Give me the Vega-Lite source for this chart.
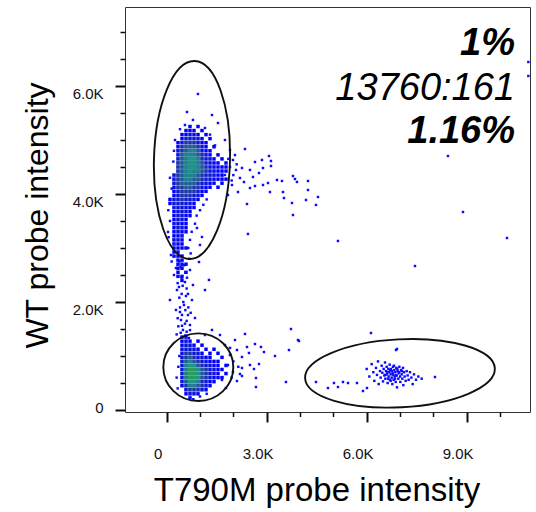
{
"$schema": "https://vega.github.io/schema/vega-lite/v6.json",
"width": 405, "height": 405,
"autosize": "none",
"padding": {"left": 125, "top": 7, "right": 6, "bottom": 100},
"background": "white",
"config": {"font": "Liberation Sans", "view": {"stroke": "#333", "strokeWidth": 1}, "axis": {"grid": false, "domain": false}},
"datasets": {
"cells": [
{"t":700,"w":5250,"d":1},{"t":940,"w":5250,"d":1},
{"t":580,"w":5175,"d":1},{"t":700,"w":5175,"d":1},{"t":820,"w":5175,"d":1},{"t":1060,"w":5175,"d":1},
{"t":460,"w":5100,"d":1},{"t":580,"w":5100,"d":1},{"t":700,"w":5100,"d":2},{"t":820,"w":5100,"d":2},{"t":940,"w":5100,"d":1},{"t":1180,"w":5100,"d":1},
{"t":460,"w":5025,"d":1},{"t":580,"w":5025,"d":2},{"t":700,"w":5025,"d":2},{"t":820,"w":5025,"d":2},{"t":940,"w":5025,"d":2},{"t":1060,"w":5025,"d":1},{"t":1300,"w":5025,"d":1},
{"t":340,"w":4950,"d":1},{"t":460,"w":4950,"d":2},{"t":580,"w":4950,"d":3},{"t":700,"w":4950,"d":3},{"t":820,"w":4950,"d":3},{"t":940,"w":4950,"d":2},{"t":1060,"w":4950,"d":1},{"t":1180,"w":4950,"d":1},
{"t":340,"w":4875,"d":1},{"t":460,"w":4875,"d":3},{"t":580,"w":4875,"d":4},{"t":700,"w":4875,"d":4},{"t":820,"w":4875,"d":4},{"t":940,"w":4875,"d":3},{"t":1060,"w":4875,"d":2},{"t":1180,"w":4875,"d":1},{"t":1420,"w":4875,"d":1},
{"t":340,"w":4800,"d":2},{"t":460,"w":4800,"d":3},{"t":580,"w":4800,"d":4},{"t":700,"w":4800,"d":5},{"t":820,"w":4800,"d":5},{"t":940,"w":4800,"d":4},{"t":1060,"w":4800,"d":2},{"t":1180,"w":4800,"d":1},{"t":1300,"w":4800,"d":1},
{"t":340,"w":4725,"d":2},{"t":460,"w":4725,"d":4},{"t":580,"w":4725,"d":5},{"t":700,"w":4725,"d":5},{"t":820,"w":4725,"d":5},{"t":940,"w":4725,"d":4},{"t":1060,"w":4725,"d":3},{"t":1180,"w":4725,"d":2},{"t":1300,"w":4725,"d":1},{"t":1540,"w":4725,"d":1},
{"t":340,"w":4650,"d":2},{"t":460,"w":4650,"d":4},{"t":580,"w":4650,"d":5},{"t":700,"w":4650,"d":6},{"t":820,"w":4650,"d":6},{"t":940,"w":4650,"d":5},{"t":1060,"w":4650,"d":3},{"t":1180,"w":4650,"d":2},{"t":1300,"w":4650,"d":2},{"t":1420,"w":4650,"d":1},{"t":1660,"w":4650,"d":1},
{"t":340,"w":4575,"d":3},{"t":460,"w":4575,"d":4},{"t":580,"w":4575,"d":5},{"t":700,"w":4575,"d":6},{"t":820,"w":4575,"d":6},{"t":940,"w":4575,"d":5},{"t":1060,"w":4575,"d":4},{"t":1180,"w":4575,"d":2},{"t":1300,"w":4575,"d":2},{"t":1420,"w":4575,"d":1},{"t":1540,"w":4575,"d":1},{"t":1780,"w":4575,"d":1},
{"t":340,"w":4500,"d":3},{"t":460,"w":4500,"d":4},{"t":580,"w":4500,"d":5},{"t":700,"w":4500,"d":6},{"t":820,"w":4500,"d":6},{"t":940,"w":4500,"d":5},{"t":1060,"w":4500,"d":4},{"t":1180,"w":4500,"d":3},{"t":1300,"w":4500,"d":2},{"t":1420,"w":4500,"d":2},{"t":1540,"w":4500,"d":1},{"t":1660,"w":4500,"d":1},{"t":1780,"w":4500,"d":1},
{"t":340,"w":4425,"d":3},{"t":460,"w":4425,"d":4},{"t":580,"w":4425,"d":5},{"t":700,"w":4425,"d":6},{"t":820,"w":4425,"d":5},{"t":940,"w":4425,"d":5},{"t":1060,"w":4425,"d":4},{"t":1180,"w":4425,"d":3},{"t":1300,"w":4425,"d":2},{"t":1420,"w":4425,"d":2},{"t":1540,"w":4425,"d":1},{"t":1660,"w":4425,"d":1},{"t":1780,"w":4425,"d":1},
{"t":220,"w":4350,"d":2},{"t":340,"w":4350,"d":3},{"t":460,"w":4350,"d":4},{"t":580,"w":4350,"d":5},{"t":700,"w":4350,"d":5},{"t":820,"w":4350,"d":5},{"t":940,"w":4350,"d":4},{"t":1060,"w":4350,"d":3},{"t":1180,"w":4350,"d":2},{"t":1300,"w":4350,"d":2},{"t":1420,"w":4350,"d":2},{"t":1540,"w":4350,"d":1},{"t":1660,"w":4350,"d":1},
{"t":220,"w":4275,"d":2},{"t":340,"w":4275,"d":3},{"t":460,"w":4275,"d":4},{"t":580,"w":4275,"d":5},{"t":700,"w":4275,"d":5},{"t":820,"w":4275,"d":4},{"t":940,"w":4275,"d":4},{"t":1060,"w":4275,"d":3},{"t":1180,"w":4275,"d":2},{"t":1300,"w":4275,"d":2},{"t":1420,"w":4275,"d":1},{"t":1540,"w":4275,"d":1},{"t":1660,"w":4275,"d":1},{"t":1780,"w":4275,"d":1},
{"t":220,"w":4200,"d":2},{"t":340,"w":4200,"d":3},{"t":460,"w":4200,"d":4},{"t":580,"w":4200,"d":4},{"t":700,"w":4200,"d":4},{"t":820,"w":4200,"d":4},{"t":940,"w":4200,"d":3},{"t":1060,"w":4200,"d":2},{"t":1180,"w":4200,"d":2},{"t":1300,"w":4200,"d":1},{"t":1420,"w":4200,"d":1},{"t":1660,"w":4200,"d":1},
{"t":220,"w":4125,"d":1},{"t":340,"w":4125,"d":3},{"t":460,"w":4125,"d":3},{"t":580,"w":4125,"d":4},{"t":700,"w":4125,"d":4},{"t":820,"w":4125,"d":3},{"t":940,"w":4125,"d":3},{"t":1060,"w":4125,"d":2},{"t":1180,"w":4125,"d":1},{"t":1300,"w":4125,"d":1},{"t":1540,"w":4125,"d":1},
{"t":220,"w":4050,"d":1},{"t":340,"w":4050,"d":2},{"t":460,"w":4050,"d":3},{"t":580,"w":4050,"d":3},{"t":700,"w":4050,"d":3},{"t":820,"w":4050,"d":3},{"t":940,"w":4050,"d":2},{"t":1060,"w":4050,"d":1},{"t":1180,"w":4050,"d":1},
{"t":220,"w":3975,"d":1},{"t":340,"w":3975,"d":2},{"t":460,"w":3975,"d":3},{"t":580,"w":3975,"d":3},{"t":700,"w":3975,"d":3},{"t":820,"w":3975,"d":2},{"t":940,"w":3975,"d":2},{"t":1060,"w":3975,"d":1},
{"t":100,"w":3900,"d":1},{"t":220,"w":3900,"d":2},{"t":340,"w":3900,"d":2},{"t":460,"w":3900,"d":3},{"t":580,"w":3900,"d":2},{"t":700,"w":3900,"d":2},{"t":820,"w":3900,"d":2},{"t":940,"w":3900,"d":1},
{"t":100,"w":3825,"d":1},{"t":220,"w":3825,"d":2},{"t":340,"w":3825,"d":2},{"t":460,"w":3825,"d":2},{"t":580,"w":3825,"d":2},{"t":700,"w":3825,"d":2},{"t":820,"w":3825,"d":1},
{"t":220,"w":3750,"d":2},{"t":340,"w":3750,"d":2},{"t":460,"w":3750,"d":2},{"t":580,"w":3750,"d":2},{"t":700,"w":3750,"d":1},{"t":820,"w":3750,"d":1},
{"t":220,"w":3675,"d":1},{"t":340,"w":3675,"d":2},{"t":460,"w":3675,"d":2},{"t":580,"w":3675,"d":2},{"t":700,"w":3675,"d":1},
{"t":220,"w":3600,"d":1},{"t":340,"w":3600,"d":2},{"t":460,"w":3600,"d":2},{"t":580,"w":3600,"d":1},{"t":700,"w":3600,"d":1},
{"t":220,"w":3525,"d":1},{"t":340,"w":3525,"d":2},{"t":460,"w":3525,"d":2},{"t":580,"w":3525,"d":1},
{"t":220,"w":3450,"d":2},{"t":340,"w":3450,"d":2},{"t":460,"w":3450,"d":1},{"t":580,"w":3450,"d":1},
{"t":220,"w":3375,"d":1},{"t":340,"w":3375,"d":2},{"t":460,"w":3375,"d":2},{"t":580,"w":3375,"d":1},
{"t":220,"w":3300,"d":1},{"t":340,"w":3300,"d":2},{"t":460,"w":3300,"d":1},{"t":580,"w":3300,"d":1},
{"t":220,"w":3225,"d":1},{"t":340,"w":3225,"d":1},{"t":460,"w":3225,"d":2},
{"t":220,"w":3150,"d":1},{"t":340,"w":3150,"d":2},{"t":460,"w":3150,"d":1},
{"t":220,"w":3075,"d":2},{"t":340,"w":3075,"d":1},{"t":460,"w":3075,"d":1},
{"t":220,"w":3000,"d":1},{"t":340,"w":3000,"d":1},{"t":460,"w":3000,"d":1},{"t":580,"w":3000,"d":1},
{"t":220,"w":2925,"d":1},{"t":340,"w":2925,"d":2},
{"t":220,"w":2850,"d":1},{"t":340,"w":2850,"d":1},{"t":460,"w":2850,"d":1},
{"t":340,"w":2775,"d":1},{"t":460,"w":2775,"d":1},
{"t":340,"w":2700,"d":1},{"t":460,"w":2700,"d":1},{"t":580,"w":2700,"d":1},
{"t":340,"w":2625,"d":1},{"t":460,"w":2625,"d":1},
{"t":340,"w":2550,"d":1},{"t":580,"w":2550,"d":1},
{"t":340,"w":2475,"d":1},{"t":460,"w":2475,"d":1},
{"t":460,"w":2400,"d":1},
{"t":460,"w":1350,"d":1},{"t":580,"w":1350,"d":1},
{"t":460,"w":1275,"d":1},{"t":580,"w":1275,"d":2},{"t":700,"w":1275,"d":1},{"t":940,"w":1275,"d":1},
{"t":460,"w":1200,"d":1},{"t":580,"w":1200,"d":2},{"t":700,"w":1200,"d":2},{"t":820,"w":1200,"d":1},{"t":1060,"w":1200,"d":1},
{"t":460,"w":1125,"d":2},{"t":580,"w":1125,"d":2},{"t":700,"w":1125,"d":2},{"t":820,"w":1125,"d":2},{"t":940,"w":1125,"d":1},{"t":1180,"w":1125,"d":1},{"t":1420,"w":1125,"d":1},
{"t":460,"w":1050,"d":2},{"t":580,"w":1050,"d":3},{"t":700,"w":1050,"d":3},{"t":820,"w":1050,"d":2},{"t":940,"w":1050,"d":2},{"t":1060,"w":1050,"d":1},{"t":1300,"w":1050,"d":1},{"t":1540,"w":1050,"d":1},
{"t":460,"w":975,"d":2},{"t":580,"w":975,"d":3},{"t":700,"w":975,"d":4},{"t":820,"w":975,"d":3},{"t":940,"w":975,"d":2},{"t":1060,"w":975,"d":2},{"t":1180,"w":975,"d":1},{"t":1300,"w":975,"d":1},{"t":1660,"w":975,"d":1},
{"t":460,"w":900,"d":2},{"t":580,"w":900,"d":4},{"t":700,"w":900,"d":5},{"t":820,"w":900,"d":4},{"t":940,"w":900,"d":3},{"t":1060,"w":900,"d":2},{"t":1180,"w":900,"d":2},{"t":1300,"w":900,"d":1},{"t":1420,"w":900,"d":1},{"t":1540,"w":900,"d":1},
{"t":460,"w":825,"d":2},{"t":580,"w":825,"d":5},{"t":700,"w":825,"d":6},{"t":820,"w":825,"d":6},{"t":940,"w":825,"d":4},{"t":1060,"w":825,"d":3},{"t":1180,"w":825,"d":2},{"t":1300,"w":825,"d":2},{"t":1420,"w":825,"d":1},{"t":1540,"w":825,"d":1},{"t":1780,"w":825,"d":1},
{"t":460,"w":750,"d":2},{"t":580,"w":750,"d":5},{"t":700,"w":750,"d":7},{"t":820,"w":750,"d":7},{"t":940,"w":750,"d":6},{"t":1060,"w":750,"d":4},{"t":1180,"w":750,"d":3},{"t":1300,"w":750,"d":2},{"t":1420,"w":750,"d":2},{"t":1540,"w":750,"d":1},{"t":1660,"w":750,"d":1},
{"t":460,"w":675,"d":2},{"t":580,"w":675,"d":5},{"t":700,"w":675,"d":7},{"t":820,"w":675,"d":7},{"t":940,"w":675,"d":6},{"t":1060,"w":675,"d":4},{"t":1180,"w":675,"d":3},{"t":1300,"w":675,"d":2},{"t":1420,"w":675,"d":2},{"t":1540,"w":675,"d":1},{"t":1780,"w":675,"d":1},
{"t":460,"w":600,"d":2},{"t":580,"w":600,"d":5},{"t":700,"w":600,"d":7},{"t":820,"w":600,"d":7},{"t":940,"w":600,"d":6},{"t":1060,"w":600,"d":4},{"t":1180,"w":600,"d":3},{"t":1300,"w":600,"d":2},{"t":1420,"w":600,"d":1},{"t":1540,"w":600,"d":1},{"t":1660,"w":600,"d":1},
{"t":460,"w":525,"d":2},{"t":580,"w":525,"d":4},{"t":700,"w":525,"d":6},{"t":820,"w":525,"d":6},{"t":940,"w":525,"d":5},{"t":1060,"w":525,"d":3},{"t":1180,"w":525,"d":2},{"t":1300,"w":525,"d":1},{"t":1420,"w":525,"d":1},
{"t":460,"w":450,"d":1},{"t":580,"w":450,"d":3},{"t":700,"w":450,"d":5},{"t":820,"w":450,"d":5},{"t":940,"w":450,"d":4},{"t":1060,"w":450,"d":3},{"t":1180,"w":450,"d":2},{"t":1300,"w":450,"d":1},
{"t":580,"w":375,"d":2},{"t":700,"w":375,"d":3},{"t":820,"w":375,"d":3},{"t":940,"w":375,"d":3},{"t":1060,"w":375,"d":2},{"t":1180,"w":375,"d":1},
{"t":580,"w":300,"d":1},{"t":700,"w":300,"d":2},{"t":820,"w":300,"d":2},{"t":940,"w":300,"d":1},
{"t":700,"w":225,"d":1}
],
"dots": [
{"t":939,"w":5852},{"t":609,"w":5519},{"t":1359,"w":5463},{"t":1539,"w":5315},{"t":789,"w":5371},{"t":1149,"w":5223},{"t":549,"w":5278},{"t":1749,"w":5000},{"t":1899,"w":4815},
{"t":2349,"w":4833},{"t":3069,"w":4704},{"t":3129,"w":4611},{"t":2859,"w":4630},{"t":2649,"w":4593},{"t":2889,"w":4482},{"t":3129,"w":4519},{"t":2769,"w":4389},{"t":2259,"w":4482},{"t":2499,"w":4445},{"t":2589,"w":4315},{"t":3309,"w":4260},{"t":3459,"w":4241},{"t":3789,"w":4334},{"t":3849,"w":4278},{"t":3909,"w":4223},{"t":4239,"w":4241},{"t":3039,"w":4204},{"t":2889,"w":4167},{"t":2649,"w":4148},{"t":2499,"w":4111},{"t":3099,"w":4037},{"t":3489,"w":4037},{"t":4239,"w":4074},{"t":3519,"w":3926},{"t":4179,"w":3889},{"t":4539,"w":3945},{"t":3759,"w":3834},{"t":4479,"w":3797},{"t":2409,"w":3815},{"t":3789,"w":3611},{"t":2439,"w":3260},{"t":5139,"w":3130},
{"t":1989,"w":4630},{"t":2079,"w":4445},{"t":2199,"w":4297},{"t":1959,"w":4167},{"t":2139,"w":4037},{"t":2049,"w":4722},{"t":2319,"w":4222},{"t":1839,"w":3982},{"t":1749,"w":4352},{"t":1900,"w":4500},{"t":2000,"w":4350},{"t":1850,"w":4650},{"t":1950,"w":4250},{"t":2100,"w":4550},
{"t":220,"w":4800},{"t":200,"w":4600},{"t":150,"w":4100},{"t":100,"w":4300},{"t":250,"w":5000},{"t":400,"w":5200},{"t":1300,"w":5100},{"t":1450,"w":4900},{"t":1200,"w":3900},{"t":1100,"w":3800},{"t":1000,"w":3700},{"t":900,"w":3600},{"t":850,"w":3450},{"t":750,"w":3300},{"t":700,"w":3150},{"t":650,"w":3000},{"t":100,"w":3500},{"t":50,"w":3700},{"t":60,"w":3200},{"t":720,"w":2900},{"t":680,"w":2800},{"t":150,"w":2750},
{"t":1269,"w":2408},{"t":99,"w":2037},{"t":279,"w":1852},{"t":759,"w":2037},{"t":429,"w":1667},{"t":699,"w":1574},{"t":309,"w":2222},{"t":789,"w":2315},{"t":579,"w":2111},{"t":519,"w":1945},{"t":639,"w":1759},{"t":489,"w":1482},{"t":669,"w":1333},{"t":399,"w":1815},{"t":849,"w":1704},{"t":219,"w":2500},{"t":969,"w":2741},{"t":129,"w":2870},{"t":999,"w":3056},{"t":39,"w":3297},{"t":909,"w":3371},{"t":1059,"w":3204},{"t":279,"w":2630},{"t":699,"w":2593},{"t":549,"w":2370},{"t":369,"w":2278},{"t":1149,"w":2222},{"t":600,"w":2250},{"t":450,"w":2150},{"t":500,"w":2000},{"t":400,"w":1900},{"t":650,"w":1900},{"t":550,"w":1600},{"t":350,"w":1550},{"t":600,"w":1450},{"t":300,"w":1400},{"t":450,"w":2450},{"t":560,"w":2550},{"t":420,"w":2650},
{"t":380,"w":2750},{"t":520,"w":2680},{"t":610,"w":2450},{"t":330,"w":2350},{"t":480,"w":2300},{"t":640,"w":2150},{"t":380,"w":2080},{"t":560,"w":1850},{"t":460,"w":1760},{"t":720,"w":1800},{"t":330,"w":1700},{"t":600,"w":1650},{"t":460,"w":1560},{"t":700,"w":1480},{"t":420,"w":1430},{"t":560,"w":1380},
{"t":2349,"w":1408},{"t":2649,"w":1222},{"t":2409,"w":1167},{"t":2829,"w":1167},{"t":2919,"w":1074},{"t":2469,"w":1056},{"t":2109,"w":1111},{"t":3249,"w":1000},{"t":3669,"w":1111},{"t":3729,"w":1500},{"t":3969,"w":1278},{"t":2769,"w":852},{"t":2499,"w":833},{"t":2259,"w":982},{"t":2259,"w":778},{"t":2619,"w":759},{"t":2199,"w":667},{"t":2259,"w":630},{"t":2679,"w":593},{"t":2109,"w":537},{"t":2679,"w":426},{"t":3579,"w":519},{"t":1749,"w":1204},{"t":1899,"w":1019},{"t":1839,"w":833},{"t":1989,"w":704},{"t":1659,"w":556},{"t":1779,"w":407},{"t":2049,"w":1296},{"t":1599,"w":1389},{"t":1359,"w":1482},{"t":1149,"w":1389},{"t":2000,"w":900},{"t":1950,"w":600},{"t":1900,"w":1150},{"t":2150,"w":800},{"t":350,"w":800},{"t":300,"w":600},{"t":380,"w":1000},{"t":330,"w":400},{"t":1200,"w":300},{"t":1000,"w":250},{"t":800,"w":200},
{"t":4479,"w":519},{"t":4839,"w":407},{"t":5019,"w":500},{"t":5139,"w":426},{"t":5289,"w":519},{"t":5439,"w":500},{"t":5709,"w":500},{"t":5889,"w":352},{"t":6009,"w":407},{"t":6909,"w":1130},{"t":6129,"w":1426},{"t":8049,"w":611},{"t":3939,"w":1296},
{"t":8439,"w":4704},{"t":8889,"w":3667},{"t":10209,"w":3185},{"t":7449,"w":2667},{"t":6879,"w":1111},{"t":10850,"w":6445},{"t":10850,"w":6186},
{"t":6000,"w":760},{"t":6080,"w":620},{"t":6150,"w":850},{"t":6200,"w":700},{"t":6230,"w":540},{"t":6280,"w":780},{"t":6310,"w":650},{"t":6340,"w":900},{"t":6360,"w":480},{"t":6400,"w":720},{"t":6420,"w":600},{"t":6450,"w":820},{"t":6470,"w":690},{"t":6490,"w":530},{"t":6510,"w":760},{"t":6530,"w":640},{"t":6550,"w":880},{"t":6560,"w":580},{"t":6580,"w":720},{"t":6600,"w":800},{"t":6610,"w":660},{"t":6630,"w":500},{"t":6650,"w":760},{"t":6660,"w":620},{"t":6680,"w":700},{"t":6690,"w":840},{"t":6700,"w":560},{"t":6720,"w":660},{"t":6730,"w":760},{"t":6750,"w":600},{"t":6760,"w":720},{"t":6770,"w":480},{"t":6790,"w":800},{"t":6800,"w":650},{"t":6810,"w":560},{"t":6830,"w":740},{"t":6840,"w":620},{"t":6860,"w":700},{"t":6870,"w":520},{"t":6890,"w":780},{"t":6900,"w":640},{"t":6910,"w":420},{"t":6930,"w":720},{"t":6950,"w":580},{"t":6960,"w":680},{"t":6980,"w":800},{"t":7000,"w":620},{"t":7010,"w":520},{"t":7030,"w":740},{"t":7050,"w":660},{"t":7070,"w":580},{"t":7090,"w":780},{"t":7100,"w":460},{"t":7120,"w":700},{"t":7140,"w":620},{"t":7170,"w":540},{"t":7200,"w":720},{"t":7230,"w":640},{"t":7260,"w":560},{"t":7300,"w":700},{"t":7340,"w":600},{"t":7380,"w":480},{"t":7420,"w":660},{"t":7480,"w":560},{"t":7550,"w":620},{"t":7650,"w":580},{"t":6620,"w":700},{"t":6700,"w":740},{"t":6780,"w":680},{"t":6850,"w":580},{"t":6720,"w":540},{"t":6640,"w":580},{"t":6920,"w":760},{"t":6820,"w":820},{"t":6560,"w":650},{"t":6980,"w":700},{"t":7060,"w":720},{"t":6880,"w":640}
]
},
"resolve": {"axis": {"x": "independent", "y": "independent"}},
"layer": [
{
"data": {"name": "cells"},
"mark": {"type": "square", "opacity": 1, "strokeWidth": 0},
"encoding": {
"x": {"field": "t", "type": "quantitative", "scale": {"domain": [-1250, 10900], "nice": false, "zero": false},
"axis": {"values": [0, 3000, 6000, 9000], "labelExpr": "datum.value === 0 ? '0' : format(datum.value / 1000, '.1f') + 'K'", "orient": "bottom", "tickSize": 10, "tickWidth": 2, "tickColor": "#111", "labelFontSize": 15, "labelColor": "#111", "labelPadding": 24, "labelOffset": -9, "labelFlush": false, "labelOverlap": false, "labelBound": false,
"title": "T790M probe intensity", "titleFontSize": 33, "titleFontWeight": "normal", "titleColor": "#000", "titleX": 191.5, "titleY": 62, "titleBaseline": "top", "titleAlign": "center"}},
"y": {"field": "w", "type": "quantitative", "scale": {"domain": [-37, 7463], "nice": false, "zero": false},
"axis": {"values": [0, 2000, 4000, 6000], "labelExpr": "datum.value === 0 ? '0' : format(datum.value / 1000, '.1f') + 'K'", "orient": "left", "tickSize": 10, "tickWidth": 2, "tickColor": "#111", "labelFontSize": 15, "labelColor": "#111", "labelPadding": 12, "labelBaseline": "middle", "labelOffset": {"condition": {"test": "datum.value === 0", "value": -3}, "value": 7}, "labelFlush": false, "labelOverlap": false, "labelBound": false,
"title": "WT probe intensity", "titleFontSize": 32, "titleFontWeight": "normal", "titleColor": "#000", "titleAngle": -90, "titleX": -102.4, "titleY": 208, "titleBaseline": "top", "titleAlign": "center"}},
"color": {"field": "d", "type": "ordinal", "scale": {"domain": [1, 2, 3, 4, 5, 6, 7], "range": ["#0000ff", "#0c16d8", "#1a34a8", "#1e5a96", "#1f7e90", "#21948a", "#2c9c5c"]}, "legend": null},
"size": {"field": "d", "type": "ordinal", "scale": {"domain": [1, 2, 3, 4, 5, 6, 7], "range": [12, 17, 17, 17, 17, 17, 17]}, "legend": null}
}
},
{
"data": {"name": "dots"},
"mark": {"type": "square", "size": 6, "color": "#0a0aff", "opacity": 1, "strokeWidth": 0},
"encoding": {
"x": {"field": "t", "type": "quantitative", "scale": {"domain": [-1250, 10900], "nice": false, "zero": false},
"axis": {"values": [1000, 2000, 4000, 5000, 7000, 8000, 10000], "labels": false, "title": null, "orient": "bottom", "tickSize": 4.5, "tickWidth": 1.5, "tickColor": "#111"}},
"y": {"field": "w", "type": "quantitative", "scale": {"domain": [-37, 7463], "nice": false, "zero": false},
"axis": {"values": [500, 1000, 1500, 2500, 3000, 3500, 4500, 5000, 5500, 6500, 7000], "labels": false, "title": null, "orient": "left", "tickSize": 5, "tickWidth": 1.5, "tickColor": "#111"}}
}
},
{
"data": {"values": [{"t": 759, "w": 4630}]},
"mark": {"type": "point", "shape": "M 0.384 0 C 0.384 0.552 0.212 1 0 1 C -0.212 1 -0.384 0.552 -0.384 0 C -0.384 -0.552 -0.212 -1 0 -1 C 0.212 -1 0.384 -0.552 0.384 0 Z", "size": 39204, "angle": 1.5, "filled": false, "color": "#111", "strokeWidth": 1.9, "opacity": 1},
"encoding": {
"x": {"field": "t", "type": "quantitative", "scale": {"domain": [-1250, 10900], "nice": false, "zero": false}, "axis": null},
"y": {"field": "w", "type": "quantitative", "scale": {"domain": [-37, 7463], "nice": false, "zero": false}, "axis": null}
}
},
{
"data": {"values": [{"t": 949, "w": 793}]},
"mark": {"type": "point", "shape": "M 1.035 0 C 1.035 0.552 0.572 1 0 1 C -0.572 1 -1.035 0.552 -1.035 0 C -1.035 -0.552 -0.572 -1 0 -1 C 0.572 -1 1.035 -0.552 1.035 0 Z", "size": 4570, "filled": false, "color": "#111", "strokeWidth": 1.9, "opacity": 1},
"encoding": {
"x": {"field": "t", "type": "quantitative", "scale": {"domain": [-1250, 10900], "nice": false, "zero": false}, "axis": null},
"y": {"field": "w", "type": "quantitative", "scale": {"domain": [-37, 7463], "nice": false, "zero": false}, "axis": null}
}
},
{
"data": {"values": [{"t": 6999, "w": 680}]},
"mark": {"type": "point", "shape": "M 2.794 0 C 2.794 0.552 1.543 1 0 1 C -1.543 1 -2.794 0.552 -2.794 0 C -2.794 -0.552 -1.543 -1 0 -1 C 1.543 -1 2.794 -0.552 2.794 0 Z", "size": 4624, "angle": -3, "filled": false, "color": "#111", "strokeWidth": 1.9, "opacity": 1},
"encoding": {
"x": {"field": "t", "type": "quantitative", "scale": {"domain": [-1250, 10900], "nice": false, "zero": false}, "axis": null},
"y": {"field": "w", "type": "quantitative", "scale": {"domain": [-37, 7463], "nice": false, "zero": false}, "axis": null}
}
},
{
"data": {"values": [{"t": 10450, "w": 6574, "label": "1%"}, {"t": 10450, "w": 4944, "label": "1.16%"}]},
"mark": {"type": "text", "font": "Liberation Sans", "fontSize": 38, "fontStyle": "italic", "fontWeight": "bold", "align": "right", "baseline": "alphabetic", "color": "#000"},
"encoding": {
"x": {"field": "t", "type": "quantitative", "scale": {"domain": [-1250, 10900], "nice": false, "zero": false}, "axis": null},
"y": {"field": "w", "type": "quantitative", "scale": {"domain": [-37, 7463], "nice": false, "zero": false}, "axis": null},
"text": {"field": "label"}
}
},
{
"data": {"values": [{"t": 10450, "w": 5741, "label": "13760:161"}]},
"mark": {"type": "text", "font": "Liberation Sans", "fontSize": 38, "fontStyle": "italic", "fontWeight": "normal", "align": "right", "baseline": "alphabetic", "color": "#000"},
"encoding": {
"x": {"field": "t", "type": "quantitative", "scale": {"domain": [-1250, 10900], "nice": false, "zero": false}, "axis": null},
"y": {"field": "w", "type": "quantitative", "scale": {"domain": [-37, 7463], "nice": false, "zero": false}, "axis": null},
"text": {"field": "label"}
}
}
]
}
